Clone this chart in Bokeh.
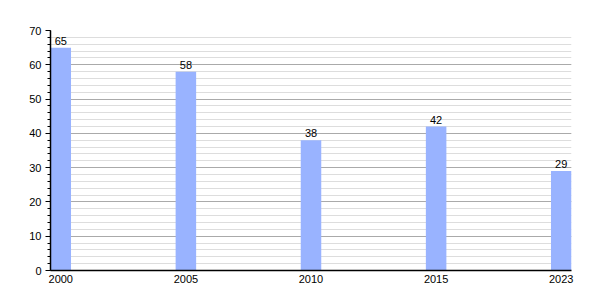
from bokeh.plotting import figure
from bokeh.models import Range1d, FixedTicker, ColumnDataSource
from bokeh.core.properties import value
from bokeh.embed import file_html
from bokeh.resources import INLINE

years = ["2000", "2005", "2010", "2015", "2023"]
values = [65, 58, 38, 42, 29]
y_ticks = [0, 10, 20, 30, 40, 50, 60, 70]

xs = list(range(len(years)))
bw = 0.164
src = ColumnDataSource(dict(x=xs, top=values, label=[str(v) for v in values]))

p = figure(width=600, height=300, output_backend="svg", toolbar_location=None,
           x_range=Range1d(-bw / 2, len(years) - 1 + bw / 2), y_range=Range1d(0, 70),
           min_border_left=50, min_border_right=29, min_border_top=30, min_border_bottom=30)
p.outline_line_color = None
p.background_fill_color = "white"
p.border_fill_color = "white"

p.vbar(x="x", top="top", width=bw, bottom=0, source=src, color="#99b3ff", line_color=None)
p.text(x="x", y="top", text="label", source=src, text_align="center", text_baseline="bottom",
       y_offset=-3, text_font=value("Liberation Sans"), text_font_size="11px", text_color="#000000")

p.xaxis.ticker = FixedTicker(ticks=xs)
p.xaxis.major_label_overrides = {i: y for i, y in enumerate(years)}
p.xaxis.major_tick_out = 0
p.xaxis.major_tick_in = 0
p.xaxis.minor_tick_out = 0
p.xaxis.minor_tick_in = 0
p.xaxis.major_label_standoff = 4

p.yaxis.ticker = FixedTicker(ticks=y_ticks, minor_ticks=list(range(0, 71, 2)))
p.yaxis.major_tick_out = 5
p.yaxis.major_tick_in = 0
p.yaxis.minor_tick_out = 3
p.yaxis.minor_tick_in = 0
p.yaxis.major_label_standoff = 4

for ax in (p.xaxis, p.yaxis):
    ax.axis_line_color = "black"
    ax.axis_line_width = 1.5
    ax.major_tick_line_color = "black"
    ax.minor_tick_line_color = "black"
    ax.major_label_text_font = "Liberation Sans"
    ax.major_label_text_font_size = "11px"
    ax.major_label_text_color = "black"

p.xgrid.grid_line_color = None
p.ygrid.grid_line_color = "#aaaaaa"
p.ygrid.minor_grid_line_color = "#dddddd"

open("out.html", "w").write(file_html(p, INLINE))
